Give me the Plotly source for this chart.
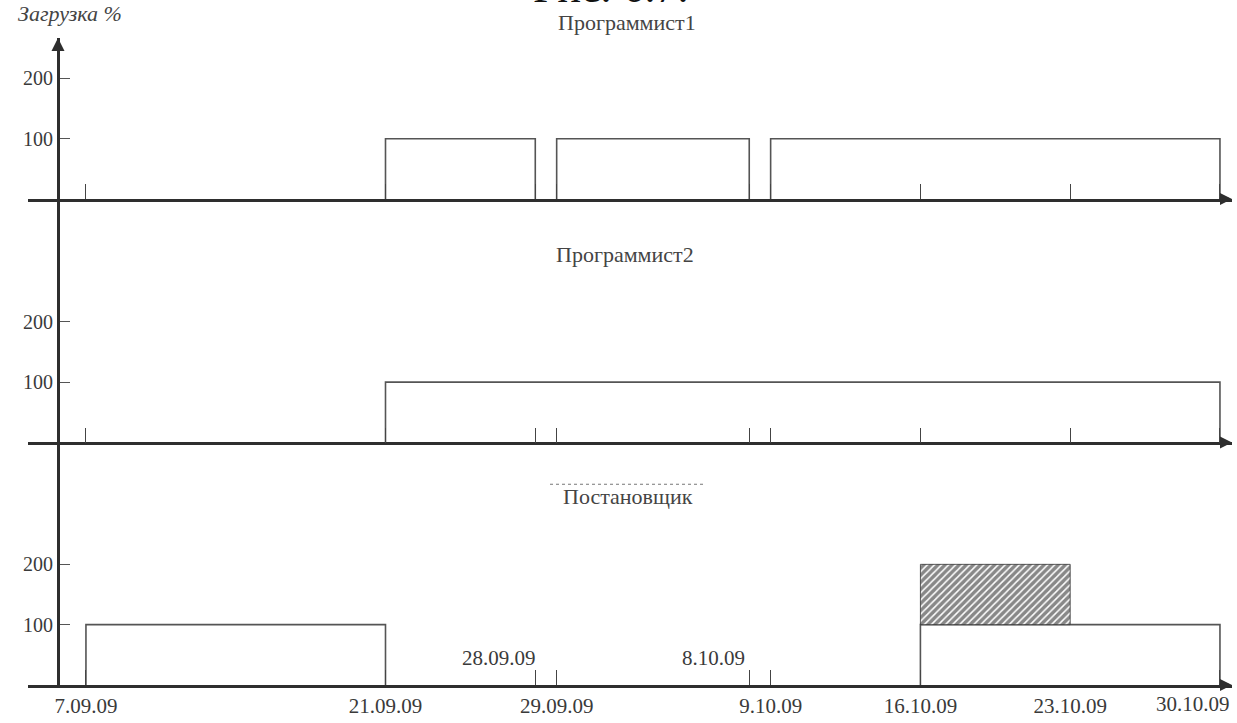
import plotly.graph_objects as go

# ---------------- data ----------------
dates = ["2009-09-07", "2009-09-21", "2009-09-28", "2009-09-29", "2009-10-08",
         "2009-10-09", "2009-10-16", "2009-10-23", "2009-10-30"]
date_labels = ["7.09.09", "21.09.09", "28.09.09", "29.09.09", "8.10.09",
               "9.10.09", "16.10.09", "23.10.09", "30.10.09"]
upper_labels = ["28.09.09", "8.10.09"]          # labels written above the axis
p3_tick_dates = ["2009-09-07", "2009-09-21", "2009-09-28", "2009-09-29",
                 "2009-10-08", "2009-10-09", "2009-10-16", "2009-10-30"]

panel_names = ["Программист1", "Программист2", "Постановщик"]
y_tick_vals = [100, 200]
y_tick_text = ["100", "200"]

# Программист1
p1_start = ["2009-09-21", "2009-09-29", "2009-10-09"]
p1_end = ["2009-09-28", "2009-10-08", "2009-10-30"]
p1_load = [100, 100, 100]
# Программист2
p2_start = ["2009-09-21"]
p2_end = ["2009-10-30"]
p2_load = [100]
# Постановщик
p3_start = ["2009-09-07", "2009-10-16"]
p3_end = ["2009-09-21", "2009-10-30"]
p3_load = [100, 100]
# overload of Постановщик (hatched)
over_start = ["2009-10-16"]
over_end = ["2009-10-23"]
over_base = [100]
over_top = [200]

# ---------------- styling ----------------
FONT = "Liberation Serif"
TXT = "#3a3a3a"
LINE = "#555555"
AXIS = "#2e2e2e"

W, H = 1237, 723
ML, MR, MT, MB = 28, 5, 38, 34
PW, PH = W - ML - MR, H - MT - MB
X_RANGE = ["2009-09-04 07:00", "2009-10-30 13:30"]


def py(pix):  # page pixel (from top) -> paper fraction
    return (H - MB - pix) / PH


def px(pix):
    return (pix - ML) / PW


dom3 = [0, py(445)]
dom2 = [py(445), py(200)]
dom1 = [py(200), 1]
px_per_unit = 0.607
rng1 = (dom1[1] - dom1[0]) * PH / px_per_unit
rng2 = (dom2[1] - dom2[0]) * PH / px_per_unit
rng3 = (dom3[1] - dom3[0]) * PH / px_per_unit
YPOS = px(58)


def rect_path(starts, ends, loads):
    xs, ys = [], []
    for s, e, l in zip(starts, ends, loads):
        xs += [s, s, e, e, None]
        ys += [0, l, l, 0, None]
    return xs, ys


fig = go.Figure()

for (st, en, ld), (xa, ya) in zip(
        [(p1_start, p1_end, p1_load), (p2_start, p2_end, p2_load), (p3_start, p3_end, p3_load)],
        [("x", "y"), ("x2", "y2"), ("x3", "y3")]):
    xs, ys = rect_path(st, en, ld)
    fig.add_trace(go.Scatter(x=xs, y=ys, mode="lines", xaxis=xa, yaxis=ya,
                             line=dict(color=LINE, width=1.6), hoverinfo="skip",
                             showlegend=False))

for s, e, b, t in zip(over_start, over_end, over_base, over_top):
    fig.add_trace(go.Scatter(x=[s, s, e, e, s], y=[b, t, t, b, b], mode="lines",
                             fill="toself", fillcolor="white",
                             fillpattern=dict(shape="/", fgcolor="#111111", bgcolor="white",
                                              size=5, solidity=0.7),
                             line=dict(color="#333333", width=0.8),
                             xaxis="x3", yaxis="y3", hoverinfo="skip", showlegend=False))

# invisible trace to carry the tick-mark overlay axis of the bottom panel
fig.add_trace(go.Scatter(x=p3_tick_dates, y=[None] * len(p3_tick_dates), mode="lines",
                         xaxis="x4", yaxis="y3", hoverinfo="skip", showlegend=False))

common_x = dict(type="date", range=X_RANGE, showgrid=False, zeroline=False,
                showline=True, linecolor=AXIS, linewidth=2.6,
                ticks="inside", ticklen=15, tickwidth=1.4, tickcolor="#444444",
                tickvals=dates, fixedrange=True)

# labels under the bottom axis (the two "upper" ones and the last one are annotations)
bottom_text = [l if (l not in upper_labels and l != date_labels[-1]) else ""
               for l in date_labels]

common_y = dict(showgrid=False, zeroline=False, showline=True, linecolor=AXIS, linewidth=3,
                anchor="free", position=YPOS, ticks="inside", ticklen=10, tickwidth=1.2,
                tickcolor="#555555", tickvals=y_tick_vals, ticktext=y_tick_text,
                tickfont=dict(family=FONT, size=20, color=TXT), fixedrange=True)

TICKFONT = dict(family=FONT, size=21, color=TXT)

fig.update_layout(
    width=W, height=H,
    margin=dict(l=ML, r=MR, t=MT, b=MB),
    paper_bgcolor="white", plot_bgcolor="white",
    showlegend=False,
    xaxis=dict(common_x, anchor="y", showticklabels=False),
    xaxis2=dict(common_x, anchor="y2", showticklabels=False),
    xaxis3=dict(common_x, anchor="y3", ticks="", ticktext=bottom_text, tickfont=TICKFONT),
    xaxis4=dict(common_x, anchor="y3", overlaying="x3", showline=False,
                tickvals=p3_tick_dates, showticklabels=False),
    yaxis=dict(common_y, domain=dom1, range=[0, rng1]),
    yaxis2=dict(common_y, domain=dom2, range=[0, rng2]),
    yaxis3=dict(common_y, domain=dom3, range=[0, rng3]),
)

ann = []
# panel titles
title_pos = [(px(627), py(22)), (px(625), py(256)), (px(628), py(499))]
for name, (xx, yy) in zip(panel_names, title_pos):
    ann.append(dict(text=name, xref="paper", yref="paper", x=xx, y=yy, showarrow=False,
                    xanchor="center", yanchor="middle",
                    font=dict(family=FONT, size=22, color="#444444")))
# y axis label
ann.append(dict(text="<i>Загрузка %</i>", xref="paper", yref="paper", x=px(70), y=py(13),
                showarrow=False, xanchor="center", yanchor="middle",
                font=dict(family=FONT, size=22, color="#444444")))
# cropped figure caption at the very top
ann.append(dict(text="Рис. 6.7.", xref="paper", yref="paper", x=px(611), y=py(-13),
                showarrow=False, xanchor="center", yanchor="middle",
                font=dict(family=FONT, size=44, color="#111111")))
# labels above the bottom axis
for lab in upper_labels:
    d = dates[date_labels.index(lab)]
    ann.append(dict(text=lab, xref="x3", yref="y3", x=d, y=45, showarrow=False,
                    xanchor="center", yanchor="middle", xshift=-36, font=TICKFONT))
# last date label, kept inside the page
ann.append(dict(text=date_labels[-1], xref="x3", yref="paper", x=dates[-1], y=py(708),
                showarrow=False, xanchor="right", yanchor="middle", xshift=12,
                font=TICKFONT))
# arrowheads
for yr in ["y", "y2", "y3"]:
    ann.append(dict(text="", xref="paper", yref=yr, x=1.0, y=0, ax=-14, ay=0,
                    showarrow=True, arrowhead=2, arrowsize=1, arrowwidth=2.4,
                    arrowcolor=AXIS))
ann.append(dict(text="", xref="paper", yref="paper", x=YPOS, y=1.0, ax=0, ay=14,
                showarrow=True, arrowhead=2, arrowsize=1, arrowwidth=2.6, arrowcolor=AXIS))
fig.update_layout(annotations=ann)

# dotted line above "Постановщик"
fig.add_shape(type="line", xref="paper", yref="paper", x0=px(550), x1=px(703),
              y0=py(487), y1=py(487), line=dict(color="#777777", width=1.2, dash="dot"))

fig.write_html("out.html", config={"displayModeBar": False},
               post_script="document.body.style.margin='0';document.body.style.padding='0';"
                           "document.body.style.overflow='hidden';")
